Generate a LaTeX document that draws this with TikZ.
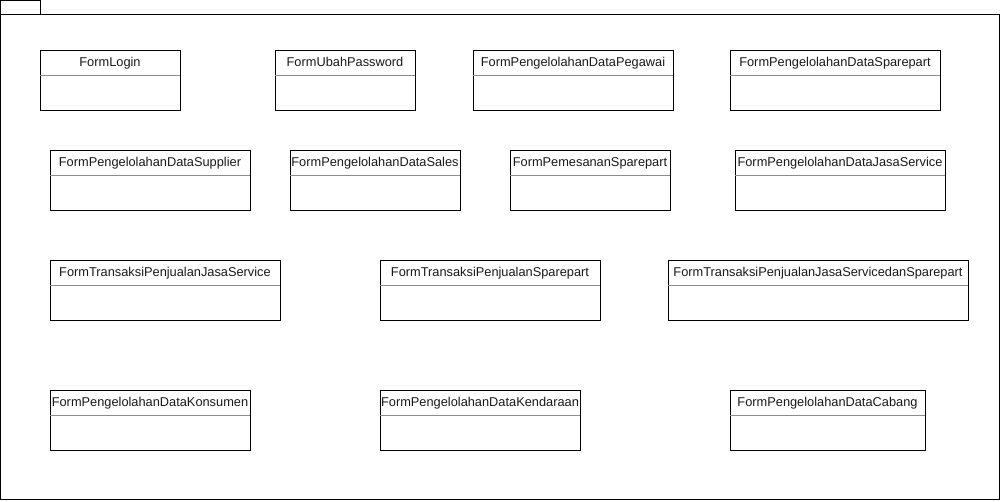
\documentclass[tikz,border=0pt]{standalone}
\usepackage{fontspec}
\setmainfont{Liberation Sans}
\begin{document}
\begin{tikzpicture}[x=1pt,y=-1pt,
  frameline/.style={draw=black, line width=1pt},
  formbox/.style={draw=black, line width=1pt, minimum height=60pt, inner sep=0pt, outer sep=0pt, anchor=north west},
  titletext/.style={font=\fontsize{12.8}{15}\selectfont, text=black!90, inner sep=0pt, anchor=base},
  divider/.style={draw=black!45, line width=0.8pt}]
\useasboundingbox (0,0) rectangle (1001,501);
% package frame
\draw[frameline] (0.5,0.5) rectangle (40,14);
\draw[frameline] (0.5,14) rectangle (999.5,499.5);
\foreach \n/\xa/\xb/\ya/\t in {
  login/40/180/50/FormLogin,
  ubah/275/415/50/FormUbahPassword,
  pegawai/473/673/50/FormPengelolahanDataPegawai,
  sparepart/730/940/50/FormPengelolahanDataSparepart,
  supplier/50/250/150/FormPengelolahanDataSupplier,
  sales/290/460/150/FormPengelolahanDataSales,
  pemesanan/510/670/150/FormPemesananSparepart,
  jasa/735/945/150/FormPengelolahanDataJasaService,
  transjasa/50/280/260/FormTransaksiPenjualanJasaService,
  transspare/380/600/260/FormTransaksiPenjualanSparepart,
  transboth/668/968/260/FormTransaksiPenjualanJasaServicedanSparepart,
  konsumen/50/250/390/FormPengelolahanDataKonsumen,
  kendaraan/380/580/390/FormPengelolahanDataKendaraan,
  cabang/730/925/390/FormPengelolahanDataCabang}{
  \pgfmathsetmacro\w{\xb-\xa}
  \node[formbox, minimum width=\w pt] (\n) at (\xa,\ya) {};
  \node[titletext] (\n-t) at ([yshift=-16pt]\n.north) {\t};
  \draw[divider] ([yshift=-25pt]\n.north west) -- ([yshift=-25pt]\n.north east);
}
\end{tikzpicture}
\end{document}
